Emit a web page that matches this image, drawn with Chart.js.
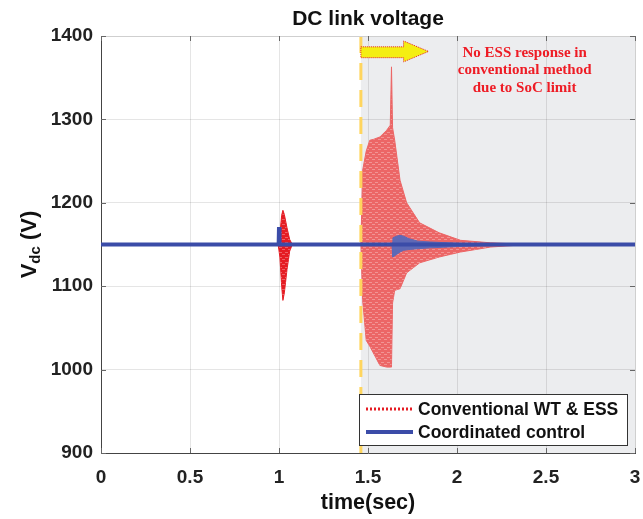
<!DOCTYPE html>
<html>
<head>
<meta charset="utf-8">
<script src="https://cdn.jsdelivr.net/npm/chart.js@4.4.1/dist/chart.umd.min.js"></script>
<style>
  html, body { margin: 0; padding: 0; background: #fff; overflow: hidden; }
</style>
</head>
<body>
<canvas id="vdc" width="643" height="519"></canvas>
<script>
'use strict';

// Axis ticks
const xTicks = [0, 0.5, 1, 1.5, 2, 2.5, 3];
const yTicks = [900, 1000, 1100, 1200, 1300, 1400];

// Coordinated control (blue) - steady line and the small bump after 1.64 s
const blueT = [0, 0.998, 1.0, 1.003, 3];
const blueV = [1150, 1150, 1171, 1150, 1150];
const bumpT = [1.635, 1.64, 1.66, 1.68, 1.70, 1.73, 1.78, 1.85, 1.95, 2.05, 2.3];
const bumpHigh = [1152, 1158, 1160, 1161, 1160, 1157, 1154, 1153, 1152, 1151, 1151];
const bumpLow = [1148, 1135, 1138, 1141, 1143, 1144, 1145, 1146, 1147, 1148, 1149];

// Conventional WT & ESS (red) - oscillation envelopes
const spikeT = [0.995, 1.005, 1.015, 1.022, 1.03, 1.045, 1.06, 1.075];
const spikeHigh = [1150, 1162, 1185, 1191, 1186, 1170, 1156, 1150];
const spikeLow = [1150, 1135, 1100, 1083, 1092, 1120, 1142, 1150];

const bandT = [1.46, 1.47, 1.49, 1.51, 1.53, 1.567, 1.605, 1.625, 1.632, 1.638, 1.65, 1.68, 1.717, 1.79, 1.90, 2.02, 2.19, 2.4];
const bandHigh = [1150, 1239, 1262, 1275, 1276, 1279, 1287, 1293, 1363, 1290, 1275, 1227, 1200, 1176, 1164, 1155, 1152, 1150];
const bandLow = [1150, 1083, 1035, 1028, 1020, 1005, 1003, 1003, 1003, 1080, 1095, 1097, 1116, 1128, 1135, 1141, 1147, 1150];

// Event marker and notes
const eventT = 1.46;
const arrowT = [1.46, 1.70, 1.84];
const arrowV = [1394, 1387, 1374, 1369];
const noteT = 2.38;
const noteLines = ['No ESS response in', 'conventional method', 'due to SoC limit'];
const legendLabels = ['Conventional WT & ESS', 'Coordinated control'];

const FONT = "'Liberation Sans', Arial, Helvetica, sans-serif";
const blueColor = '#3B4CA8',
  bumpColor = '#5E69B6',
  redColor = '#E51C23',
  redLight = '#EC6666',
  greyZone = '#ECEDEF',
  yellowColor = '#FFD55E';

function pts(t, v) {
  return t.map(function (x, i) { return { x: x, y: v[i] }; });
}

// dotted texture for the red band
function bandPattern(base) {
  const c = document.createElement('canvas');
  c.width = 6; c.height = 5;
  const g = c.getContext('2d');
  g.fillStyle = base;
  g.fillRect(0, 0, 6, 5);
  g.fillStyle = 'rgba(255,255,255,0.3)';
  g.fillRect(0, 4, 3, 1);
  g.fillRect(3, 2, 3, 1);
  return g.createPattern(c, 'repeat');
}

const decor = {
  id: 'decor',
  beforeDraw: function (chart) {
    const { ctx, chartArea: a, scales: { x } } = chart;
    ctx.save();
    ctx.fillStyle = greyZone;
    const gx = x.getPixelForValue(eventT);
    ctx.fillRect(gx, a.top, a.right - gx, a.bottom - a.top);
    ctx.restore();
  },
  afterDatasetsDraw: function (chart) {
    const { ctx, chartArea: a, scales: { x, y } } = chart;
    ctx.save();
    // dashed event line
    const gx = x.getPixelForValue(eventT);
    ctx.strokeStyle = yellowColor;
    ctx.lineWidth = 3;
    ctx.setLineDash([17, 10]);
    ctx.beginPath();
    ctx.moveTo(gx, a.top);
    ctx.lineTo(gx, a.bottom);
    ctx.stroke();
    ctx.setLineDash([]);

    // frame: top/right light, ticks
    ctx.strokeStyle = '#cfcfcf';
    ctx.lineWidth = 1;
    ctx.beginPath();
    ctx.moveTo(a.left, a.top + 0.5);
    ctx.lineTo(a.right + 0.5, a.top + 0.5);
    ctx.lineTo(a.right + 0.5, a.bottom);
    ctx.stroke();
    ctx.strokeStyle = '#666';
    ctx.beginPath();
    yTicks.forEach(function (v) {
      const py = Math.round(y.getPixelForValue(v)) + 0.5;
      ctx.moveTo(a.left, py); ctx.lineTo(a.left + 5, py);
      ctx.moveTo(a.right, py); ctx.lineTo(a.right - 5, py);
    });
    xTicks.forEach(function (v) {
      const px = Math.round(x.getPixelForValue(v)) + 0.5;
      ctx.moveTo(px, a.bottom); ctx.lineTo(px, a.bottom - 5);
      ctx.moveTo(px, a.top); ctx.lineTo(px, a.top + 5);
    });
    ctx.stroke();

    // yellow arrow
    const x0 = x.getPixelForValue(arrowT[0]), x1 = x.getPixelForValue(arrowT[1]), x2 = x.getPixelForValue(arrowT[2]);
    const yH1 = y.getPixelForValue(arrowV[0]), yS1 = y.getPixelForValue(arrowV[1]),
      yS2 = y.getPixelForValue(arrowV[2]), yH2 = y.getPixelForValue(arrowV[3]);
    const yc = (yH1 + yH2) / 2;
    ctx.beginPath();
    ctx.moveTo(x0, yS1);
    ctx.lineTo(x1, yS1);
    ctx.lineTo(x1, yH1);
    ctx.lineTo(x2, yc);
    ctx.lineTo(x1, yH2);
    ctx.lineTo(x1, yS2);
    ctx.lineTo(x0, yS2);
    ctx.closePath();
    ctx.fillStyle = '#F4EE12';
    ctx.fill();
    ctx.strokeStyle = redColor;
    ctx.lineWidth = 1;
    ctx.setLineDash([1, 1]);
    ctx.stroke();
    ctx.setLineDash([]);

    // note text
    ctx.fillStyle = '#EE1C25';
    ctx.font = "bold 15px 'Liberation Serif', 'Times New Roman', serif";
    ctx.textAlign = 'center';
    ctx.textBaseline = 'middle';
    const nx = x.getPixelForValue(noteT);
    noteLines.forEach(function (s, i) {
      ctx.fillText(s, nx, a.top + 17 + i * 17.5);
    });

    // legend
    const lw = 268, lh = 51;
    const lx = a.right - 8 - lw, ly = a.bottom - 8 - lh;
    ctx.fillStyle = '#fff';
    ctx.fillRect(lx, ly, lw, lh);
    ctx.strokeStyle = '#333';
    ctx.lineWidth = 1;
    ctx.strokeRect(Math.round(lx) + 0.5, Math.round(ly) + 0.5, lw, lh);
    const r1 = ly + 15, r2 = ly + 38;
    ctx.strokeStyle = redColor;
    ctx.lineWidth = 3;
    ctx.setLineDash([2, 2]);
    ctx.beginPath(); ctx.moveTo(lx + 7, r1); ctx.lineTo(lx + 54, r1); ctx.stroke();
    ctx.setLineDash([]);
    ctx.strokeStyle = blueColor;
    ctx.lineWidth = 4;
    ctx.beginPath(); ctx.moveTo(lx + 7, r2); ctx.lineTo(lx + 54, r2); ctx.stroke();
    ctx.fillStyle = '#111';
    ctx.font = 'bold 17.5px ' + FONT;
    ctx.textAlign = 'left';
    ctx.fillText(legendLabels[0], lx + 59, r1 + 1);
    ctx.fillText(legendLabels[1], lx + 59, r2 + 1);
    ctx.restore();
  },
  afterDraw: function (chart) {
    const { ctx, chartArea: a } = chart;
    ctx.save();
    ctx.fillStyle = '#111';
    ctx.textAlign = 'center';
    ctx.textBaseline = 'middle';
    ctx.font = 'bold 21px ' + FONT;
    ctx.fillText('DC link voltage', (a.left + a.right) / 2, 19);
    ctx.font = 'bold 21.5px ' + FONT;
    ctx.fillText('time(sec)', (a.left + a.right) / 2, 503);
    // y title with subscript
    ctx.translate(30, (a.top + a.bottom) / 2);
    ctx.rotate(-Math.PI / 2);
    ctx.textAlign = 'left';
    ctx.font = 'bold 22px ' + FONT;
    const w1 = ctx.measureText('V').width;
    ctx.font = 'bold 15px ' + FONT;
    const w2 = ctx.measureText('dc').width;
    ctx.font = 'bold 22px ' + FONT;
    const w3 = ctx.measureText(' (V)').width;
    let sx = -(w1 + w2 + w3) / 2;
    ctx.fillText('V', sx, 0);
    ctx.font = 'bold 15px ' + FONT;
    ctx.fillText('dc', sx + w1, 6);
    ctx.font = 'bold 22px ' + FONT;
    ctx.fillText(' (V)', sx + w1 + w2, 0);
    ctx.restore();
  }
};

const redPattern = bandPattern(redLight);
const spikePattern = bandPattern(redColor);

function line(data, color, width, fill, bg) {
  return {
    data: data,
    borderColor: color,
    borderWidth: width,
    backgroundColor: bg || color,
    fill: fill,
    pointRadius: 0,
    tension: 0
  };
}

new Chart(document.getElementById('vdc'), {
  type: 'line',
  data: {
    datasets: [
      line(pts(blueT, blueV), blueColor, 4, false),
      line(pts(bumpT, bumpHigh), bumpColor, 1, '+1', bumpColor),
      line(pts(bumpT, bumpLow), bumpColor, 1, false),
      line(pts(bandT, bandHigh), redLight, 1, '+1', redPattern),
      line(pts(bandT, bandLow), redLight, 1, false),
      line(pts(spikeT, spikeHigh), redColor, 1, '+1', spikePattern),
      line(pts(spikeT, spikeLow), redColor, 1, false)
    ]
  },
  options: {
    responsive: false,
    animation: false,
    layout: { padding: { top: 36, right: 8, left: 0, bottom: 0 } },
    plugins: {
      legend: { display: false },
      tooltip: { enabled: false },
      title: { display: false }
    },
    scales: {
      x: {
        type: 'linear',
        min: 0,
        max: 3,
        afterFit: function (s) { s.height = 66; s.paddingLeft = 0; s.paddingRight = 0; },
        afterBuildTicks: function (s) { s.ticks = xTicks.map(function (v) { return { value: v }; }); },
        grid: { color: 'rgba(0,0,0,0.1)', drawTicks: false },
        border: { color: '#444' },
        ticks: {
          padding: 13,
          color: '#222',
          font: { family: FONT, size: 19, weight: 'bold' },
          maxRotation: 0,
          callback: function (v) { return String(v); }
        }
      },
      y: {
        min: 900,
        max: 1400,
        afterFit: function (s) { s.width = 101; s.paddingTop = 0; s.paddingBottom = 0; },
        afterBuildTicks: function (s) { s.ticks = yTicks.map(function (v) { return { value: v }; }); },
        grid: { color: 'rgba(0,0,0,0.1)', drawTicks: false },
        border: { color: '#444' },
        ticks: {
          padding: 8,
          color: '#222',
          font: { family: FONT, size: 19, weight: 'bold' },
          callback: function (v) { return String(v); }
        }
      }
    }
  },
  plugins: [decor]
});
</script>
</body>
</html>
